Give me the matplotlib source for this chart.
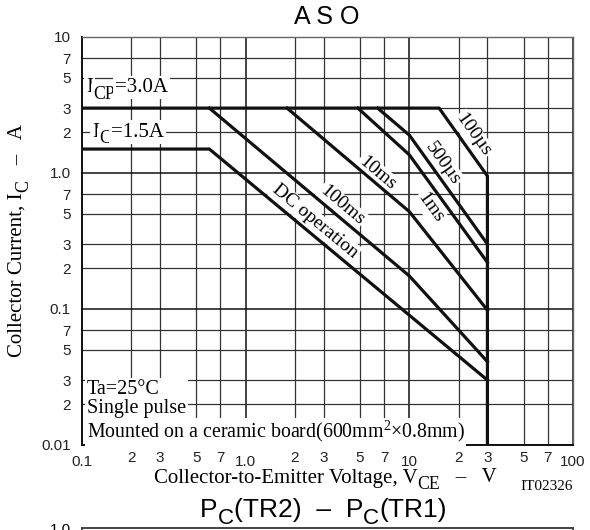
import numpy as np
import matplotlib
matplotlib.use("Agg")
import matplotlib.pyplot as plt

SANS = "Liberation Sans"
SERIF = "Liberation Serif"

# safe operating area boundaries (V_CE in volts, I_C in amperes)
vce_100us = [0.1, 15.2, 30.0, 30.0]
ic_100us = [3.0, 3.0, 0.95, 0.01]
vce_500us = [6.4, 10.0, 30.0]
ic_500us = [3.0, 1.9, 0.30]
vce_1ms = [4.85, 10.0, 30.0]
ic_1ms = [3.0, 1.36, 0.22]
vce_10ms = [1.79, 10.0, 30.0]
ic_10ms = [3.0, 0.52, 0.098]
vce_100ms = [0.6, 10.0, 30.0]
ic_100ms = [3.0, 0.175, 0.041]
vce_dc = [0.1, 0.6, 30.0]
ic_dc = [1.5, 1.5, 0.03]

# curve labels: text, position, segment used for the slant
curve_labels = [
    ("100µs", (24.5, 1.9), (vce_100us[1:3], ic_100us[1:3])),
    ("500µs", (16.0, 1.18), (vce_500us[1:3], ic_500us[1:3])),
    ("1ms", (13.4, 0.553), (vce_1ms[1:3], ic_1ms[1:3])),
    ("10ms", (6.34, 1.0), (vce_10ms[0:2], ic_10ms[0:2])),
    ("100ms", (3.87, 0.58), (vce_100ms[0:2], ic_100ms[0:2])),
    ("DC operation", (2.65, 0.44), (vce_dc[1:3], ic_dc[1:3])),
]

x_major = [0.1, 1, 10, 100]
x_major_labels = ["0.1", "1.0", "10", "100"]
x_minor = [2e-1, 3e-1, 5e-1, 7e-1, 2, 3, 5, 7, 20, 30, 50, 70]
x_minor_labels = ["2", "3", "5", "7"] * 3
y_major = [0.01, 0.1, 1, 10]
y_major_labels = ["0.01", "0.1", "1.0", "10"]
y_minor = [2e-2, 3e-2, 5e-2, 7e-2, 2e-1, 3e-1, 5e-1, 7e-1, 2, 3, 5, 7]
y_minor_labels = ["2", "3", "5", "7"] * 3

W, H = 590, 530
fig = plt.figure(figsize=(W / 100, H / 100), dpi=100)
L, R, T, B = 82, 573, 37, 445
ax = fig.add_axes([L / W, 1 - B / H, (R - L) / W, (B - T) / H])
ax.set_xscale("log")
ax.set_yscale("log")
ax.set_xlim(0.1, 100)
ax.set_ylim(0.01, 10)

ax.set_xticks(x_major, x_major_labels)
ax.set_xticks(x_minor, x_minor_labels, minor=True)
ax.set_yticks(y_major, y_major_labels)
ax.set_yticks(y_minor, y_minor_labels, minor=True)
ax.tick_params(which="both", length=0, labelsize=11)
ax.tick_params(axis="x", which="major", pad=7)
ax.tick_params(axis="x", which="minor", pad=4)
ax.tick_params(axis="y", which="both", pad=8)
for lab in ax.get_xticklabels(which="both") + ax.get_yticklabels(which="both"):
    lab.set_fontfamily(SANS)
    lab.set_color("#222222")

ax.grid(which="major", color="#111111", lw=1.1)
ax.grid(which="minor", color="#333333", lw=0.9)
for side, sp in ax.spines.items():
    sp.set_color("#666666" if side in ("top", "right") else "#111111")
    sp.set_linewidth(1.0 if side in ("top", "right") else 1.4)

curve_kw = dict(color="#111111", lw=2.3, zorder=5, solid_joinstyle="miter")
for vx, iy in [(vce_100us, ic_100us), (vce_500us, ic_500us), (vce_1ms, ic_1ms),
               (vce_10ms, ic_10ms), (vce_100ms, ic_100ms), (vce_dc, ic_dc)]:
    ax.plot(vx, iy, **curve_kw)


def slant(xs, ys):
    p = ax.transData.transform(np.column_stack([xs, ys]))
    return np.degrees(np.arctan2(p[1, 1] - p[0, 1], p[1, 0] - p[0, 0]))


def white(pad):
    return dict(facecolor="white", edgecolor="none", pad=pad)


for text, (tx, ty), (sx, sy) in curve_labels:
    ax.text(tx, ty, text, family=SERIF, fontsize=14, rotation=slant(sx, sy),
            rotation_mode="anchor", ha="center", va="center", bbox=white(1.0), zorder=4)


def chained(x, y, parts, size, family, coords, rotation=0, ha="left", va="center",
            pad=None, zorder=4):
    """Write text pieces one after another; (s, True) pieces are lowered subscripts."""
    kw = dict(family=family, zorder=zorder, annotation_clip=False)
    if pad is not None:
        kw["bbox"] = white(pad)
    s0, _ = parts[0]
    prev = ax.annotate(s0, (x, y), xycoords=coords, fontsize=size, rotation=rotation,
                       ha=ha, va=va, **kw)
    prev_sub = False
    for s, is_sub in parts[1:]:
        shift = 0.0
        if is_sub and not prev_sub:
            shift = -0.27 * size
        elif prev_sub and not is_sub:
            shift = 0.27 * size
        fs = size * 0.85 if is_sub else size
        if rotation == 90:
            prev = ax.annotate(s, (1, 1), xycoords=prev, xytext=(-shift, 0),
                               textcoords="offset points", fontsize=fs, rotation=90,
                               ha="right", va="bottom", **kw)
        else:
            prev = ax.annotate(s, (1, 0), xycoords=prev, xytext=(0, shift),
                               textcoords="offset points", fontsize=fs,
                               ha="left", va="bottom", **kw)
        prev_sub = is_sub
    return prev


chained(0.106, 4.25, [("I", False), ("CP", True), ("=3.0A", False)], 15, SERIF,
        "data", pad=1.5)
chained(0.115, 2.0, [("I", False), ("C", True), ("=1.5A", False)], 15, SERIF,
        "data", pad=1.5)

ax.text(0.107, 0.0218, "Ta=25°C\nSingle pulse", family=SERIF, fontsize=14.5,
        ha="left", va="center", linespacing=1.02, bbox=white(1.5), zorder=4)
ax.text(0.107, 0.0125, "Mounted on a ceramic board(600mm$\\mathregular{^2}$×0.8mm)",
        family=SERIF, fontsize=14.3, ha="left", va="center", bbox=white(1.0), zorder=4)

fig.text(327 / W, 1 - 17 / H, "A S O", family=SANS, fontsize=18, ha="center", va="center")

px = "figure pixels"
chained(154, H - 478, [("Collector-to-Emitter Voltage, V", False), ("CE", True),
                       ("   –   V", False)], 15, SERIF, px)
fig.text(573 / W, 1 - 486 / H, "IT02326", family=SERIF, fontsize=11,
         ha="right", va="center")
chained(17, H - 357, [("Collector Current, I", False), ("C", True), ("   –   A", False)],
        15, SERIF, px, rotation=90, ha="center", va="bottom")

# start of the next chart below
chained(200, H - 510, [("P", False), ("C", True), ("(TR2)  –  P", False), ("C", True),
                       ("(TR1)", False)], 19, SANS, px)
ax2 = fig.add_axes([L / W, 1 - 528 / H - 0.5, (R - L) / W, 0.5])
ax2.set_xlim(0, 160)
ax2.set_ylim(0, 1.0)
ax2.set_yticks([1.0], ["1.0"])
ax2.set_xticks([20, 40, 60, 80, 100, 120, 140], [])
ax2.tick_params(length=0, labelsize=11, pad=8)
for lab in ax2.get_yticklabels():
    lab.set_fontfamily(SANS)
for side, sp in ax2.spines.items():
    sp.set_color("#444444")
    sp.set_linewidth(1.4)

fig.savefig("out.png", dpi=100)
